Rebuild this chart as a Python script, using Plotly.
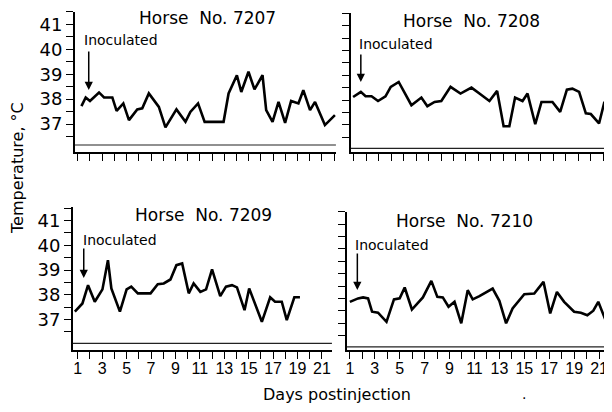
import plotly.graph_objects as go

# the page body keeps its default 8px margin, so the figure is sized to fit the
# window without scrolling and every pixel position is measured from the window
PAD = 8
W, H = 612 - PAD, 412 - 2 * PAD
FONT = "DejaVu Sans"

# --- data (day postinjection, rectal temperature degC)
days_7207 = [1.30, 1.65, 2.00, 2.74, 3.15, 3.83, 4.18, 4.73, 5.19, 5.87, 6.28, 6.82, 7.64,
             8.18, 9.08, 9.82, 10.22, 10.85, 11.39, 12.94, 13.35, 14.03, 14.39, 14.98, 15.47,
             16.13, 16.43, 16.95, 17.44, 17.98, 18.47, 19.07, 19.47, 20.02, 20.43, 21.24, 22.06]
temp_7207 = [37.72, 38.07, 37.93, 38.27, 38.07, 38.07, 37.53, 37.83, 37.16, 37.59, 37.63, 38.23, 37.69,
             36.87, 37.59, 37.09, 37.49, 37.83, 37.09, 37.09, 38.23, 38.96, 38.29, 39.10, 38.39,
             38.96, 37.56, 37.09, 37.89, 37.05, 37.93, 37.83, 38.36, 37.56, 37.89, 36.96, 37.36]

days_7208 = [0.94, 1.56, 1.94, 2.42, 2.94, 3.54, 3.96, 4.60, 5.62, 6.42, 6.90, 7.48, 8.02,
             8.76, 9.56, 10.44, 11.08, 11.88, 12.50, 13.02, 13.48, 13.94, 14.54, 14.94, 15.56,
             16.06, 16.94, 17.56, 18.10, 18.54, 19.08, 19.62, 20.02, 20.68, 21.08, 21.62]
temp_7208 = [38.12, 38.33, 38.15, 38.15, 37.96, 38.15, 38.53, 38.73, 37.79, 38.10, 37.75, 37.92, 37.96,
             38.53, 38.26, 38.50, 38.26, 37.96, 38.37, 36.94, 36.94, 38.10, 37.96, 38.26, 37.02,
             37.92, 37.92, 37.52, 38.42, 38.46, 38.33, 37.46, 37.43, 37.05, 37.86, 37.66]

days_7209 = [0.76, 1.38, 1.84, 2.39, 3.02, 3.47, 3.75, 4.45, 5.00, 5.38, 5.92, 6.96, 7.55,
             8.04, 8.59, 9.08, 9.55, 10.09, 10.49, 11.04, 11.51, 12.00, 12.67, 13.14, 13.63,
             14.04, 14.66, 15.04, 16.08, 16.76, 17.16, 17.71, 18.12, 18.74, 19.20]
temp_7209 = [37.32, 37.65, 38.39, 37.72, 38.22, 39.40, 38.26, 37.32, 38.22, 38.33, 38.06, 38.06, 38.43,
             38.46, 38.62, 39.20, 39.27, 38.06, 38.46, 38.12, 38.22, 39.03, 37.95, 38.33, 38.39,
             38.30, 37.38, 38.26, 36.91, 37.90, 37.72, 37.72, 36.98, 37.90, 37.90]

days_7210 = [1.00, 1.66, 2.06, 2.46, 2.78, 3.26, 3.94, 4.54, 5.00, 5.40, 5.98, 6.86, 7.54,
             8.02, 8.46, 8.92, 9.40, 9.94, 10.46, 10.86, 11.40, 12.46, 13.00, 13.54, 14.06,
             15.00, 15.80, 16.54, 17.08, 17.62, 18.20, 19.00, 19.54, 20.06, 20.54, 20.94, 21.62]
temp_7210 = [37.86, 38.00, 38.04, 38.00, 37.46, 37.42, 37.05, 37.96, 38.00, 38.44, 37.55, 38.04, 38.71,
             38.06, 38.04, 37.66, 37.86, 36.99, 38.33, 37.96, 38.09, 38.40, 37.90, 36.99, 37.59,
             38.17, 38.20, 38.67, 37.39, 38.26, 37.86, 37.46, 37.42, 37.32, 37.50, 37.86, 36.99]

y_ticks = [36.5, 37, 37.5, 38, 38.5, 39, 39.5, 40, 40.5, 41, 41.5]
x_ticks = list(range(1, 23))


def fx(p):
    return (p - PAD) / W


def fy(p):
    return 1 - (p - PAD) / H


# pixel boxes (left, right, top, bottom) in window pixels, and axis ranges
panels = [
    dict(title="7207", days=days_7207, temps=temp_7207, box=(74, 336, 11.7, 152),
         xr=[0.755, 22.14], yr=[35.88, 41.51], base=36.16, left=True, bottom=False,
         title_at=(207, 18), inoc_at=(81, 40), arrow=(88, 90, 40)),
    dict(title="7208", days=days_7208, temps=temp_7208, box=(351, 612, 13.3, 152),
         xr=[0.76, 21.64], yr=[35.895, 41.51], base=36.04, left=False, bottom=False,
         title_at=(472, 21), inoc_at=(357, 44), arrow=(361, 82, 29)),
    dict(title="7209", days=days_7209, temps=temp_7209, box=(72, 332, 207, 350),
         xr=[0.59, 21.82], yr=[35.77, 41.55], base=36.04, left=True, bottom=True,
         title_at=(203, 215), inoc_at=(80, 240), arrow=(83, 278, 31)),
    dict(title="7210", days=days_7210, temps=temp_7210, box=(347, 608, 211.7, 350),
         xr=[0.76, 21.64], yr=[35.91, 41.51], base=36.04, left=False, bottom=True,
         title_at=(465, 221), inoc_at=(353, 245), arrow=(357.5, 290, 38)),
]

fig = go.Figure()
layout = dict(
    width=W, height=H, margin=dict(l=0, r=0, t=0, b=0),
    paper_bgcolor="white", plot_bgcolor="white", showlegend=False,
    font=dict(family=FONT, color="black"),
)
annotations = []
shapes = []

for i, p in enumerate(panels, 1):
    sfx = "" if i == 1 else str(i)
    l, r, t, b = p["box"]
    fig.add_trace(go.Scatter(
        x=p["days"], y=p["temps"], mode="lines",
        line=dict(color="black", width=2.6),
        xaxis="x" + sfx, yaxis="y" + sfx, cliponaxis=False,
    ))
    layout["xaxis" + sfx] = dict(
        domain=[fx(l), min(fx(r), 1)], range=p["xr"], anchor="y" + sfx,
        showgrid=False, zeroline=False, showline=True, linecolor="black", linewidth=1.6,
        ticks="outside", ticklen=7, tickwidth=1.4, tickcolor="black",
        tickvals=x_ticks,
        ticktext=[str(d) if d % 2 == 1 and d <= 21 else "" for d in x_ticks],
        showticklabels=p["bottom"], ticklabelstandoff=-4,
        tickfont=dict(family="Liberation Sans", size=16),
    )
    layout["yaxis" + sfx] = dict(
        domain=[fy(b), fy(t)], range=p["yr"], anchor="x" + sfx,
        showgrid=False, zeroline=False, showline=True, linecolor="black", linewidth=1.6,
        ticks="outside", ticklen=7, tickwidth=1.4, tickcolor="black",
        tickvals=y_ticks,
        ticktext=[str(int(v)) if v == int(v) and 37 <= v <= 41 else "" for v in y_ticks],
        showticklabels=p["left"], tickfont=dict(size=18),
    )
    # faint baseline just above the day axis
    shapes.append(dict(type="line", xref="x" + sfx + " domain", yref="y" + sfx,
                       x0=0, x1=1, y0=p["base"], y1=p["base"],
                       line=dict(color="#222", width=1.2)))
    tx, ty = p["title_at"]
    annotations.append(dict(text="Horse\u00a0\u00a0No.\u00a0" + p["title"], x=fx(tx), y=fy(ty),
                            xref="paper", yref="paper", showarrow=False,
                            font=dict(size=17), xanchor="center", yanchor="middle"))
    ix, iy = p["inoc_at"]
    annotations.append(dict(text="Inoculated", x=fx(ix), y=fy(iy), xref="paper", yref="paper",
                            showarrow=False, font=dict(size=14), xanchor="left", yanchor="middle"))
    ax_, ay_, alen = p["arrow"]
    annotations.append(dict(text="", x=fx(ax_), y=fy(ay_), xref="paper", yref="paper",
                            showarrow=True, arrowhead=2, arrowsize=1.1, arrowwidth=1.5,
                            arrowcolor="black", ax=0, ay=-alen))

annotations.append(dict(text="Temperature, \u00b0C", x=fx(17), y=fy(168), xref="paper", yref="paper",
                        showarrow=False, textangle=-90, font=dict(size=16),
                        xanchor="center", yanchor="middle"))
annotations.append(dict(text="Days postinjection", x=fx(337), y=fy(394), xref="paper", yref="paper",
                        showarrow=False, font=dict(size=16), xanchor="center", yanchor="middle"))
annotations.append(dict(text=".", x=fx(525), y=fy(394), xref="paper", yref="paper",
                        showarrow=False, font=dict(size=14), xanchor="center", yanchor="middle"))

layout["annotations"] = annotations
layout["shapes"] = shapes
fig.update_layout(**layout)
fig.write_html("out.html")
